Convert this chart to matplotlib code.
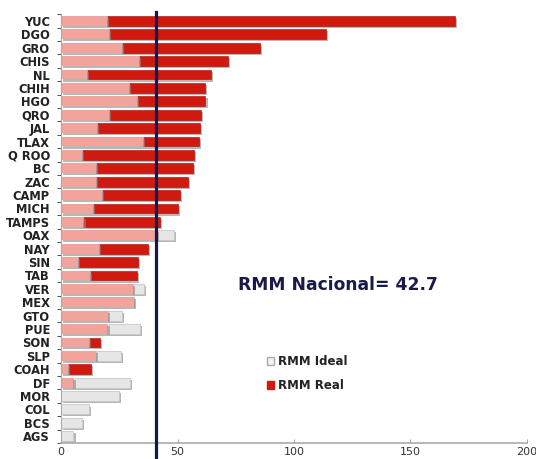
import numpy as np
import matplotlib
matplotlib.use("Agg")
import matplotlib.pyplot as plt
import matplotlib.patheffects as pe
from matplotlib.patches import Patch

plt.rcParams['font.family'] = ['DejaVu Sans']

# states, top to bottom
estados = ["YUC", "DGO", "GRO", "CHIS", "NL", "CHIH", "HGO", "QRO", "JAL", "TLAX",
           "Q ROO", "BC", "ZAC", "CAMP", "MICH", "TAMPS", "OAX", "NAY", "SIN", "TAB",
           "VER", "MEX", "GTO", "PUE", "SON", "SLP", "COAH", "DF", "MOR", "COL",
           "BCS", "AGS"]

rmm_ideal = [19.6, 20.6, 26.1, 33.6, 11.1, 29.0, 32.6, 20.6, 15.3, 35.0,
             9.0, 15.0, 15.0, 17.6, 13.6, 9.6, 48.4, 16.1, 7.4, 12.4,
             35.6, 31.3, 26.0, 33.9, 12.0, 25.6, 3.1, 29.6, 25.0, 12.1,
             8.9, 5.3]

rmm_real = [169.0, 113.6, 85.3, 71.7, 64.3, 61.7, 62.0, 59.9, 59.6, 59.1,
            57.1, 56.7, 54.6, 51.0, 50.0, 42.4, 41.0, 37.4, 33.1, 32.7,
            31.0, 31.3, 20.3, 19.9, 16.7, 15.0, 12.9, 5.3, 0.0, 0.0,
            0.0, 0.0]

rmm_nacional = 42.7
linea_nacional = 40.8   # where the line sits in the original

ideal = np.array(rmm_ideal)
real = np.array(rmm_real)
y = np.arange(len(estados))

c_red = "#d01a10"
c_pink = "#f2a39b"
c_gray = "#e6e6e6"

fig = plt.figure(figsize=(5.36, 4.59), dpi=100)
ax = fig.add_axes([0.114, 0.035, 0.869, 0.934])

shadow = [pe.SimplePatchShadow(offset=(1.5, -1.5), shadow_rgbFace="#888888", alpha=0.6),
          pe.Normal()]

h = 0.74
overlap = np.minimum(ideal, real)
# real beyond ideal (red)
b1 = ax.barh(y, np.where(real > ideal, real - ideal, 0), left=overlap, height=h,
             color=c_red, edgecolor="#b00000", linewidth=0.4)
# ideal beyond real (gray)
b2 = ax.barh(y, np.where(ideal > real, ideal - real, 0), left=overlap, height=h,
             color=c_gray, edgecolor="#c8c8c8", linewidth=0.6)
# common part (pink)
b3 = ax.barh(y, overlap, height=h, color=c_pink, edgecolor="none")
for bars in (b1, b2, b3):
    for p in bars:
        if p.get_width() > 0:
            p.set_path_effects(shadow)

ax.axvline(linea_nacional, ymin=-0.05, ymax=1.005, color="#15154f",
           linewidth=2.3, clip_on=False, zorder=5)

ax.set_xlim(0, 200)
ax.set_ylim(len(estados) - 0.5, -0.5)
ax.set_yticks(y)
ax.set_yticklabels(estados, fontsize=8.3, fontweight="bold", color="#222222")
ax.set_yticks(np.arange(len(estados) + 1) - 0.5, minor=True)
ax.tick_params(axis="y", which="major", length=0, pad=8)
ax.tick_params(axis="y", which="minor", length=3, color="#333333", direction="out")
ax.set_xticks([0, 50, 100, 150, 200])
ax.tick_params(axis="x", length=3, direction="in", color="#aaaaaa",
               labelsize=8, labelcolor="#333333", pad=3)

for s in ("top", "right"):
    ax.spines[s].set_visible(False)
ax.spines["left"].set_color("#aaaaaa")
ax.spines["bottom"].set_color("#aaaaaa")
ax.spines["bottom"].set_linewidth(1.2)

ax.text(0.379, 0.357, "RMM Nacional= " + str(rmm_nacional), transform=ax.transAxes,
        fontsize=12.3, fontweight="bold", color="#1a1a4a", va="baseline")

handles = [Patch(facecolor="#f4f4f4", edgecolor="#aaaaaa", label="RMM Ideal"),
           Patch(facecolor=c_red, edgecolor=c_red, label="RMM Real")]
leg = ax.legend(handles=handles, loc="upper left", bbox_to_anchor=(0.42, 0.23),
                frameon=False, handlelength=0.6, handleheight=0.6,
                handletextpad=0.3, labelspacing=0.95,
                prop={"weight": "bold", "size": 8.5})
for t in leg.get_texts():
    t.set_color("#222222")

fig.savefig("out.png", dpi=100)
